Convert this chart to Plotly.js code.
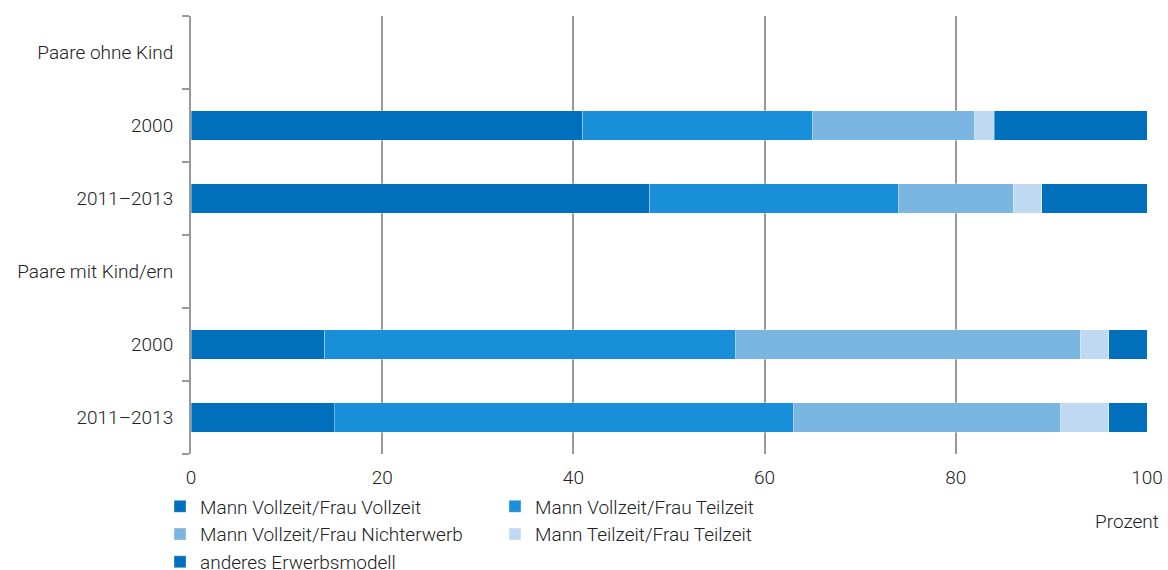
<!DOCTYPE html>
<html><head><meta charset="utf-8">
<script src="https://cdn.plot.ly/plotly-3.0.1.min.js"></script>
<style>html,body{margin:0;padding:0;background:#fff}#chart{width:1168px;height:570px}</style>
</head><body><div id="chart"></div>
<script>
const catIds = ["g1","a1","b1","g2","a2","b2"];
const tickLabels = ["Paare ohne Kind","2000","2011–2013","Paare mit Kind/ern","2000","2011–2013"];
const seriesNames = ["Mann Vollzeit/Frau Vollzeit","Mann Vollzeit/Frau Teilzeit","Mann Vollzeit/Frau Nichterwerb","Mann Teilzeit/Frau Teilzeit","anderes Erwerbsmodell"];
const vzvz = [null,41,48,null,14,15];
const vztz = [null,24,26,null,43,48];
const vzne = [null,17,12,null,36,28];
const tztz = [null,2,3,null,3,5];
const anderes = [null,16,11,null,4,4];
const colors = ["#0070BC","#1A8FD9","#7BB5E2","#BED9F1","#0070BC"];
const legendOf = ["legend","legend2","legend","legend2","legend"];
const allVals = [vzvz,vztz,vzne,tztz,anderes];

const traces = allVals.map((v,i)=>({
  type:"bar", orientation:"h", name:seriesNames[i], y:catIds, x:v, legend:legendOf[i],
  marker:{color:colors[i], line:{color:"rgba(255,255,255,0.35)", width:1}},
  hoverinfo:"x+name"
}));

const fam = "Roboto, 'Noto Sans', sans-serif";
const tf = {size:19, color:"#222", family:fam, weight:300};

const layout = {
  width:1168, height:570,
  margin:{l:191, r:21, t:16, b:116, autoexpand:false},
  barmode:"stack", bargap:0.6,
  paper_bgcolor:"#fff", plot_bgcolor:"#fff",
  font:tf,
  xaxis:{range:[0,100], tickvals:[0,20,40,60,80,100], showgrid:true, gridcolor:"#999", gridwidth:2,
    zeroline:false, showline:false, ticks:"", ticklabelstandoff:10, tickfont:tf},
  yaxis:{type:"category", categoryorder:"array", categoryarray:catIds, tickvals:catIds, ticktext:tickLabels,
    autorange:"reversed", showline:true, linecolor:"#999", linewidth:2, ticks:"outside", tickson:"boundaries",
    ticklen:7, tickwidth:2, tickcolor:"#999", showgrid:false, ticklabelstandoff:12, tickfont:tf},
  legend:{orientation:"v", xref:"paper", x:-0.0324, xanchor:"left", yref:"container", y:0.1447, yanchor:"top",
    itemwidth:30, tracegroupgap:0, font:tf, traceorder:"normal", bgcolor:"rgba(0,0,0,0)"},
  legend2:{orientation:"v", xref:"paper", x:0.318, xanchor:"left", yref:"container", y:0.1447, yanchor:"top",
    itemwidth:30, tracegroupgap:0, font:tf, traceorder:"normal", bgcolor:"rgba(0,0,0,0)"},
  annotations:[{text:"Prozent", xref:"paper", yref:"paper", x:1.015, y:-0.155, xanchor:"right", yanchor:"middle",
    showarrow:false, font:tf}],
  showlegend:true
};
Plotly.newPlot("chart", traces, layout, {displayModeBar:false, staticPlot:true});
</script></body></html>
